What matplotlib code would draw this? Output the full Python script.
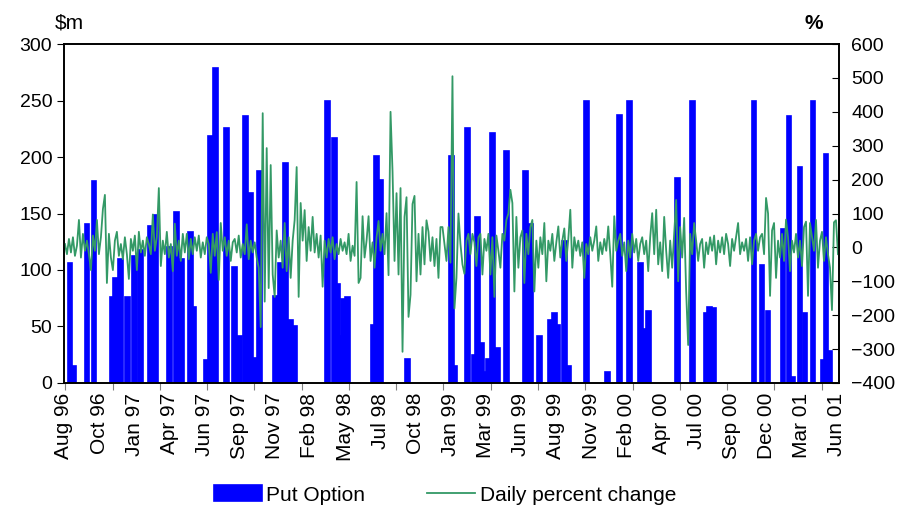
import matplotlib
matplotlib.use("Agg")
import matplotlib.pyplot as plt
import numpy as np

plt.rcParams['font.family'] = ['Liberation Sans', 'DejaVu Sans']

# month labels along the bottom
month_labels = ["Aug 96", "Oct 96", "Jan 97", "Apr 97", "Jun 97", "Sep 97", "Nov 97",
                "Feb 98", "May 98", "Jul 98", "Oct 98", "Jan 99", "Mar 99", "Jun 99",
                "Aug 99", "Nov 99", "Feb 00", "Apr 00", "Jul 00", "Sep 00", "Dec 00",
                "Mar 01", "Jun 01"]

# put option bars: position (period index) and size ($m)
put_pos = [2.5, 4.5, 11, 14.5, 24, 25.5, 28, 31.5, 35, 38, 43, 45.5, 52.5, 56, 58.5,
           63, 64.5, 71, 73, 75.5, 81, 85, 87.5, 90.5, 93, 95.5, 97.5, 105.5, 108, 110.5,
           113, 115, 131.5, 135, 136.5, 137.5, 139.5, 141.5, 154.5, 156, 158, 171.5, 193.5,
           195, 201.5, 205, 206.5, 208.5, 211, 212, 214, 216.5, 221, 230.5, 233, 237.5,
           243, 245, 246.5, 250, 252, 261, 271.5, 277.5, 282.5, 288, 289.5, 292, 306.5,
           314, 321, 322.5, 324.5, 345, 349, 352, 359.5, 362.5, 364.5, 368, 370.5, 374.5,
           379.5, 381, 383]
put_val = [106, 15, 141, 179, 76, 93, 110, 76, 112, 118, 139, 149, 120, 151, 110,
           134, 67, 20, 219, 279, 226, 103, 42, 236, 168, 22, 188, 77, 106, 195,
           56, 50, 250, 217, 88, 42, 74, 76, 51, 201, 180, 21, 201,
           15, 226, 25, 147, 35, 10, 21, 221, 31, 205, 188, 141, 42,
           56, 62, 51, 126, 15, 250, 10, 237, 250, 106, 48, 64, 181,
           250, 62, 67, 66, 250, 104, 64, 136, 236, 5, 191, 62, 250,
           20, 203, 28]

# daily percent change
pct_change = [
    10, -20, 25, -15, 30, -25, 5, 81, -30, 40,
    -10, 20, -20, -67, 35, -10, 81, -20, 30, 113,
    155, -105, 40, -30, -67, 20, 46, -25, 10, -35,
    30, -20, -93, 25, -10, 35, -67, 46, -15, 20,
    -25, 30, 10, -20, 97, -10, 30, 175, -55, 20,
    -20, 46, -30, 10, -70, 70, -25, 20, -40, 40,
    -15, 40, -35, 25, -20, 30, -10, 35, -30, 15,
    -20, 30, 10, -75, 40, -25, 45, -96, 72, -10,
    30, -25, 20, -40, 15, 25, -15, 35, -30, 10,
    -20, 68, -35, 20, -15, 15, -30, -60, -235, 396,
    -160, 293, -120, 243, -80, -146, 50, -30, 20, -60,
    72, -70, 30, -90, 20, 81, 237, -146, 131, 20,
    110, -40, 60, -10, 90, -15, 40, -30, 35, -116,
    20, -30, 25, -15, 30, -35, 10, -20, 25, -10,
    15, -20, 40, -40, 5, -25, 193, -105, -90, 92,
    -30, 20, 92, -40, 15, -60, 30, 78, -10, 40,
    -20, 101, -82, 400, 224, -40, 160, -80, 175, -308,
    90, 148, -205, -140, 128, 152, -100, 40, -80, 60,
    -50, 80, 46, -40, 30, -55, 25, -90, 60, 60,
    10, -40, 60, -45, 505, -180, -90, 100, 10, -50,
    -78, 20, 40, -20, 40, 15, -55, 30, 40, -80,
    25, -10, 40, -80, 30, -146, 35, -10, -60, 40,
    20, 81, 100, 170, 131, -130, 90, -60, 30, 50,
    -105, 40, -20, 60, 81, -130, 20, -60, 30, -20,
    72, -100, 20, -10, 40, -40, 15, 62, -30, 20,
    56, -40, 25, 111, -60, 30, -10, 20, -25, 15,
    -90, 10, -20, 30, -10, 20, 62, -40, 15, -20,
    25, -10, 62, -20, -116, 92, -10, 20, 40, -25,
    15, -70, 20, -30, 40, -15, 25, -40, 10, 30,
    -20, 20, -70, 30, 101, -20, 111, -50, 15, -70,
    90, -10, -90, 20, -60, 40, 140, -100, 60, -30,
    87, -130, -288, 40, -20, 72, 20, -40, 10, 25,
    -60, 15, -20, 30, -10, 35, -50, 20, -15, 30,
    -20, 40, 10, -55, 25, -10, 30, 72, -20, 15,
    -10, 25, -40, 30, -50, 20, 40, -10, 30, 40,
    -20, 146, 100, -143, 50, 72, -90, 20, -30, 40,
    -40, 82, 30, -70, 20, -15, 40, -30, 20, -55,
    60, 76, -143, 72, 30, -10, 81, -60, 20, 46,
    -40, 30, -20, -60, -185, 74, 80, -20,
]

fig = plt.figure(figsize=(8.97, 5.12), dpi=100)
ax = fig.add_axes([0.0713, 0.252, 0.864, 0.662])

ax.bar(put_pos, put_val, width=2.4, color='#0000FF', edgecolor='#0000FF',
       linewidth=1.2, label='Put Option', zorder=2)
ax.set_ylim(0, 300)
ax.set_yticks(np.arange(0, 301, 50))
ax.set_xlim(0, 387.5)

ax2 = ax.twinx()
ax2.plot(np.arange(len(pct_change)), pct_change, color='#339966', lw=1.3,
         label='Daily percent change')
ax2.set_ylim(-400, 600)
ax2.set_yticks(np.arange(-400, 601, 100))
ax2.set_xlim(0, 387.5)

# ticks every few labels, month labels in between as in the original
ax.set_xticks(np.arange(0.15, 388, 23.67))
ax.set_xticklabels([])
ax.set_xticks(np.linspace(-0.5, 386.5, len(month_labels)), minor=True)
ax.set_xticklabels(month_labels, minor=True, rotation=90, fontsize=15)
ax.tick_params(axis='x', which='major', length=5, color='#808080', direction='out')
ax.tick_params(axis='x', which='minor', length=0, pad=7)
ax.tick_params(axis='y', labelsize=14, length=5, direction='out')
ax2.tick_params(axis='y', labelsize=14, length=5, direction='in', pad=9)

for a in (ax, ax2):
    for s in a.spines.values():
        s.set_linewidth(1.2)

fig.text(0.061, 0.955, '$m', fontsize=15, ha='left', va='center')
fig.text(0.897, 0.955, '%', fontsize=15, ha='left', va='center', fontweight='bold')

h1, l1 = ax.get_legend_handles_labels()
h2, l2 = ax2.get_legend_handles_labels()
fig.legend(h1 + h2, l1 + l2, loc='center', bbox_to_anchor=(0.496, 0.033), ncol=2,
           frameon=False, fontsize=15, handlelength=2.3, handleheight=0.8,
           columnspacing=3.0, handletextpad=0.2)

fig.savefig('out.png', dpi=100)
